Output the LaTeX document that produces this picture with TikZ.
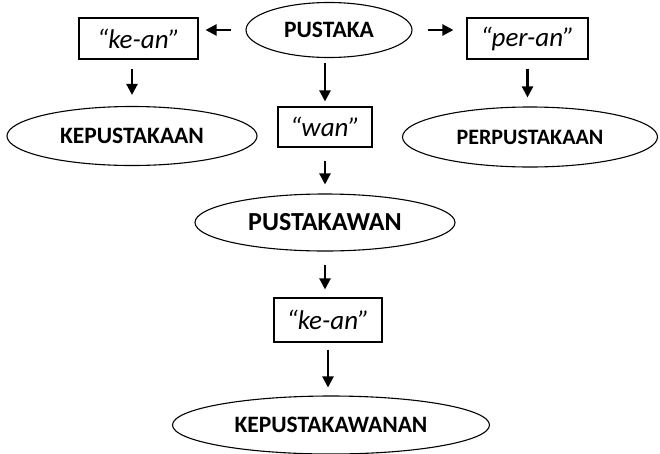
\documentclass[tikz,border=0pt]{standalone}
\usepackage{fontspec}
\setmainfont{Carlito}
\usetikzlibrary{shapes.geometric,arrows.meta}
\begin{document}
\begin{tikzpicture}[x=1pt,y=-1pt,
  oval/.style={draw,ellipse,line width=1.1pt,inner sep=0pt,font=\bfseries},
  box/.style={draw,rectangle,line width=1.1pt,inner sep=0pt,font=\fontsize{27}{31}\selectfont\itshape},
  arr/.style={line width=2.2pt,-{Triangle[length=11pt,width=11pt]}}]
\useasboundingbox (0,0) rectangle (660,453);
\node[oval,minimum width=166pt,minimum height=55pt,font=\fontsize{23.5}{27}\selectfont\bfseries] (pustaka) at (329,30) {PUSTAKA};
\node[box,minimum width=119pt,minimum height=41pt] (kean1) at (138.5,38.5) {“ke-an”};
\node[box,minimum width=121pt,minimum height=41pt] (peran) at (527.5,38.5) {“per-an”};
\node[oval,minimum width=250pt,minimum height=59pt,font=\fontsize{23.5}{27}\selectfont\bfseries] (kepus) at (132,136) {KEPUSTAKAAN};
\node[oval,minimum width=255pt,minimum height=60pt,font=\fontsize{22}{26}\selectfont\bfseries] (perpus) at (530,137) {PERPUSTAKAAN};
\node[box,minimum width=94pt,minimum height=40pt] (wan) at (325,127) {“wan”};
\node[oval,minimum width=260pt,minimum height=57pt,font=\fontsize{26}{30}\selectfont\bfseries] (pkw) at (325,222.5) {PUSTAKAWAN};
\node[box,minimum width=108pt,minimum height=44pt] (kean2) at (328,320) {“ke-an”};
\node[oval,minimum width=317pt,minimum height=58pt,font=\fontsize{23.5}{27}\selectfont\bfseries] (kpkw) at (331,425) {KEPUSTAKAWANAN};
\draw[arr,shorten <=14pt,shorten >=7pt] (pustaka.west) -- (pustaka.west -| kean1.east);
\draw[arr,shorten <=15pt,shorten >=13pt] (pustaka.east) -- (pustaka.east -| peran.west);
\draw[arr,shorten <=9pt,shorten >=11pt] (kean1.south -| kepus.north) -- (kepus.north);
\draw[arr,shorten <=9pt,shorten >=9pt] (peran.south) -- (peran.south |- perpus.north);
\draw[arr,shorten <=5pt,shorten >=5pt] (pustaka.south -| wan.north) -- (wan.north);
\draw[arr,shorten <=13pt,shorten >=9pt] (wan.south) -- (wan.south |- pkw.north);
\draw[arr,shorten <=13pt,shorten >=8pt] (pkw.south) -- (pkw.south |- kean2.north);
\draw[arr,shorten <=7pt,shorten >=8pt] (kean2.south) -- (kean2.south |- kpkw.north);
\end{tikzpicture}
\end{document}
